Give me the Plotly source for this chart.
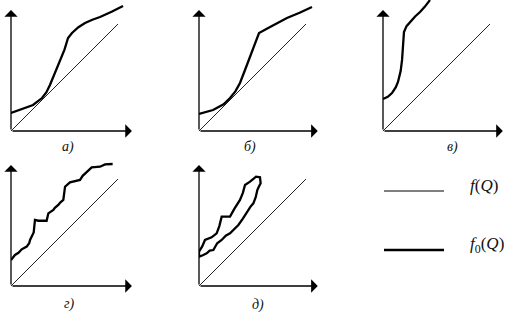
import plotly.graph_objects as go

W, H = 517, 321
UNIT = 107.0  # pixels per data unit (diagonal f(Q) spans 0..1)

panel_labels = ["а)", "б)", "в)", "г)", "д)"]
legend_labels = ["<i>f</i>(<i>Q</i>)", "<i>f</i><sub>0</sub>(<i>Q</i>)"]

# thin reference line f(Q)
diag_x = [0.0, 1.0]
diag_y = [0.0, 1.0]

# thick curves f0(Q)
a_x = [0.0, 0.084, 0.206, 0.29, 0.33, 0.364, 0.41, 0.458, 0.50, 0.533, 0.57, 0.63, 0.692, 0.76, 0.832, 0.94, 1.047]
a_y = [0.168, 0.196, 0.243, 0.308, 0.36, 0.43, 0.54, 0.645, 0.76, 0.869, 0.916, 0.97, 1.009, 1.04, 1.065, 1.115, 1.168]

b_x = [0.0, 0.131, 0.23, 0.29, 0.34, 0.383, 0.43, 0.477, 0.52, 0.561, 0.664, 0.74, 0.822, 0.94, 1.056]
b_y = [0.159, 0.196, 0.25, 0.308, 0.37, 0.449, 0.57, 0.692, 0.80, 0.916, 0.972, 1.01, 1.056, 1.105, 1.159]

c_x = [0.0, 0.045, 0.084, 0.12, 0.14, 0.165, 0.178, 0.19, 0.196, 0.22, 0.252, 0.30, 0.346, 0.39, 0.439]
c_y = [0.299, 0.32, 0.355, 0.41, 0.458, 0.56, 0.664, 0.80, 0.925, 0.98, 1.019, 1.07, 1.112, 1.16, 1.224]

d_x = [0.0, 0.037, 0.07, 0.1, 0.147, 0.17, 0.178, 0.202, 0.212, 0.224, 0.255, 0.333, 0.34, 0.349, 0.396, 0.41,
       0.442, 0.46, 0.489, 0.495, 0.505, 0.551, 0.645, 0.67, 0.707, 0.754, 0.832, 0.879, 0.95]
d_y = [0.243, 0.29, 0.31, 0.343, 0.368, 0.40, 0.43, 0.477, 0.50, 0.617, 0.61, 0.61, 0.66, 0.679, 0.71, 0.73,
       0.757, 0.78, 0.804, 0.87, 0.928, 0.969, 0.991, 1.03, 1.068, 1.109, 1.115, 1.137, 1.14]

e_x = [0.0, 0.03, 0.056, 0.09, 0.118, 0.165, 0.19, 0.212, 0.25, 0.29, 0.33, 0.383, 0.41, 0.43, 0.477, 0.533,
       0.57, 0.576, 0.56, 0.545, 0.53, 0.508, 0.48, 0.445, 0.41, 0.368, 0.33, 0.29, 0.25, 0.212, 0.17, 0.134,
       0.10, 0.072, 0.04, 0.0, 0.0]
e_y = [0.321, 0.37, 0.43, 0.44, 0.455, 0.492, 0.56, 0.648, 0.645, 0.648, 0.72, 0.804, 0.87, 0.944, 0.975, 1.022,
       1.016, 0.96, 0.93, 0.897, 0.83, 0.773, 0.74, 0.679, 0.63, 0.57, 0.53, 0.492, 0.47, 0.43, 0.40, 0.336,
       0.33, 0.305, 0.29, 0.274, 0.321]

curves = [(a_x, a_y), (b_x, b_y), (c_x, c_y), (d_x, d_y), (e_x, e_y)]
origins = [(11, 131), (199, 131), (383, 131), (11, 286), (199, 286)]  # pixel origin of each panel
arrow_len = [1.13, 1.11, 1.12, 1.13, 1.11]
label_px = [(68, 147), (250, 147), (452, 147), (69, 304), (258, 305)]  # label centres, pixels

SPAN = 131.0  # pixel span of each panel's axis domain

fig = go.Figure()
layout = dict(width=W, height=H, margin=dict(l=0, r=0, t=0, b=0),
              paper_bgcolor="white", plot_bgcolor="white", showlegend=False,
              hovermode=False)
annotations = []

for i, ((cx, cy), (ox, oy)) in enumerate(zip(curves, origins)):
    n = "" if i == 0 else str(i + 1)
    xa, ya = "x" + n, "y" + n
    layout["xaxis" + n] = dict(domain=[ox / W, (ox + SPAN) / W], range=[0, SPAN / UNIT],
                               visible=False, fixedrange=True, anchor=ya)
    layout["yaxis" + n] = dict(domain=[1 - oy / H, 1 - (oy - SPAN) / H], range=[0, SPAN / UNIT],
                               visible=False, fixedrange=True, anchor=xa)
    fig.add_trace(go.Scatter(x=diag_x, y=diag_y, mode="lines", xaxis=xa, yaxis=ya,
                             line=dict(color="#222", width=1), cliponaxis=False))
    fig.add_trace(go.Scatter(x=cx, y=cy, mode="lines", xaxis=xa, yaxis=ya,
                             line=dict(color="black", width=2.3, shape="linear"), cliponaxis=False))
    L = arrow_len[i]
    for hx, hy in [(L, 0), (0, 1.13)]:
        annotations.append(dict(x=hx, y=hy, ax=0, ay=0, xref=xa, yref=ya, axref=xa, ayref=ya,
                                text="", showarrow=True, arrowhead=1, arrowsize=1.7,
                                arrowwidth=1.3, arrowcolor="black"))
    lx, ly = label_px[i]
    annotations.append(dict(x=lx / W, y=1 - ly / H, xref="paper", yref="paper",
                            text="<i>" + panel_labels[i] + "</i>", showarrow=False,
                            xanchor="center", yanchor="middle",
                            font=dict(family="Liberation Serif", size=14, color="#111")))

# legend panel
layout["xaxis6"] = dict(domain=[370 / W, 1], range=[370, 517], visible=False, fixedrange=True, anchor="y6")
layout["yaxis6"] = dict(domain=[0, 1 - 160 / H], range=[321, 160], visible=False, fixedrange=True, anchor="x6")
legend_x = [384, 444]
legend_rows = [191, 250]
legend_widths = [1, 2.3]
for row, lw, lab in zip(legend_rows, legend_widths, legend_labels):
    fig.add_trace(go.Scatter(x=legend_x, y=[row, row], mode="lines", xaxis="x6", yaxis="y6",
                             line=dict(color="black", width=lw)))
    annotations.append(dict(x=468 / W, y=1 - (row - 5) / H, xref="paper", yref="paper", text=lab,
                            showarrow=False, xanchor="left", yanchor="middle",
                            font=dict(family="Liberation Serif", size=17, color="#111")))

layout["annotations"] = annotations
fig.update_layout(**layout)
fig.write_html("out.html", config={"displayModeBar": False, "staticPlot": True})
